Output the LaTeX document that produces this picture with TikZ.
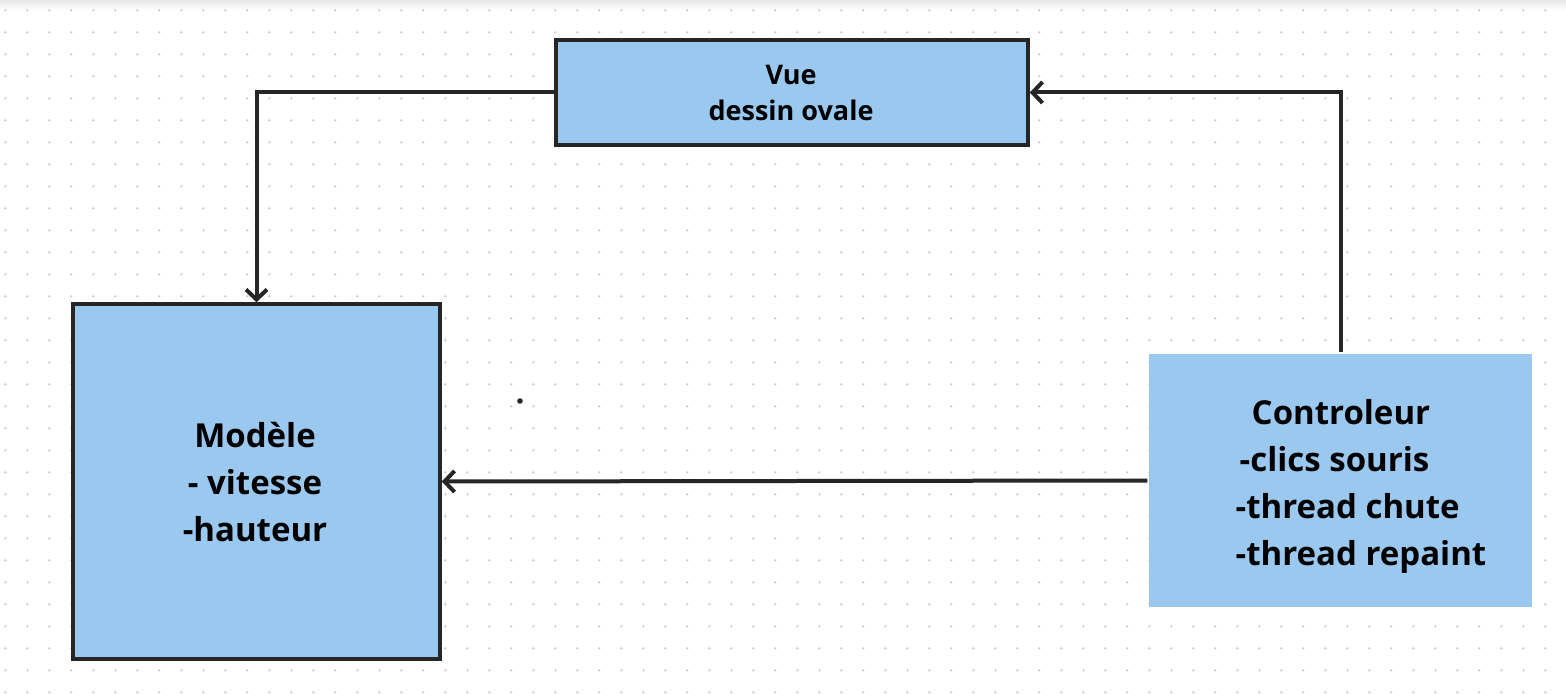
\documentclass[tikz,border=0pt]{standalone}
\usepackage{fontspec}
\setmainfont{Open Sans}
\usetikzlibrary{arrows.meta}

\definecolor{bleuboite}{HTML}{9AC8EE}
\definecolor{trait}{HTML}{262626}
\definecolor{pointgrille}{HTML}{C6C6C6}

\begin{document}
\begin{tikzpicture}[x=1pt,y=-1pt,
    boite/.style={fill=bleuboite,draw=trait,line width=3.5pt,inner sep=0pt},
    fleche/.style={draw=trait,line width=4pt,-{Straight Barb[length=10pt,width=21pt]}},
    texte/.style={font=\bfseries\fontsize{33}{47}\selectfont,inner sep=0pt}]
    \useasboundingbox (0,0) rectangle (1566,695);

    % Fond
    \fill[white] (0,0) rectangle (1566,695);
    \shade[top color=black!10,bottom color=white] (0,0) rectangle (1566,10);
    \foreach \i in {0,...,70} {
        \foreach \j in {0,...,31} {
            \fill[pointgrille] (5.3+22*\i,10.3+22*\j) circle (1.2);
        }
    }

    % Boites
    \node[boite,minimum width=472pt,minimum height=105pt] (vue) at (792,92.5) {};
    \node[boite,minimum width=367pt,minimum height=355pt] (modele) at (256.5,481.5) {};
    \node[boite,draw=none,minimum width=383pt,minimum height=253pt] (ctrl) at (1340.5,480.5) {};

    % Textes
    \node[texte,font=\bfseries\fontsize{27}{36}\selectfont,align=center] (vuetxt) at (791,93) {Vue\\dessin ovale};
    \node[texte,align=center] (modeletxt) at (255,482) {Modèle\\- vitesse\\-hauteur};
    \node[texte,align=left] (ctrltxt) at (1361,486)
        {\hspace*{16pt}Controleur\\\hspace*{4pt}-clics souris\\-thread chute\\-thread repaint};

    % Fleches
    \draw[fleche] (vue.west) -| (modele.north);
    \draw[fleche] (ctrl.north) |- (vue.east);
    \draw[fleche] (ctrl.west) -- (modele.east);

    % Point isole
    \fill[trait] (520,401) circle (2.8);
\end{tikzpicture}
\end{document}
